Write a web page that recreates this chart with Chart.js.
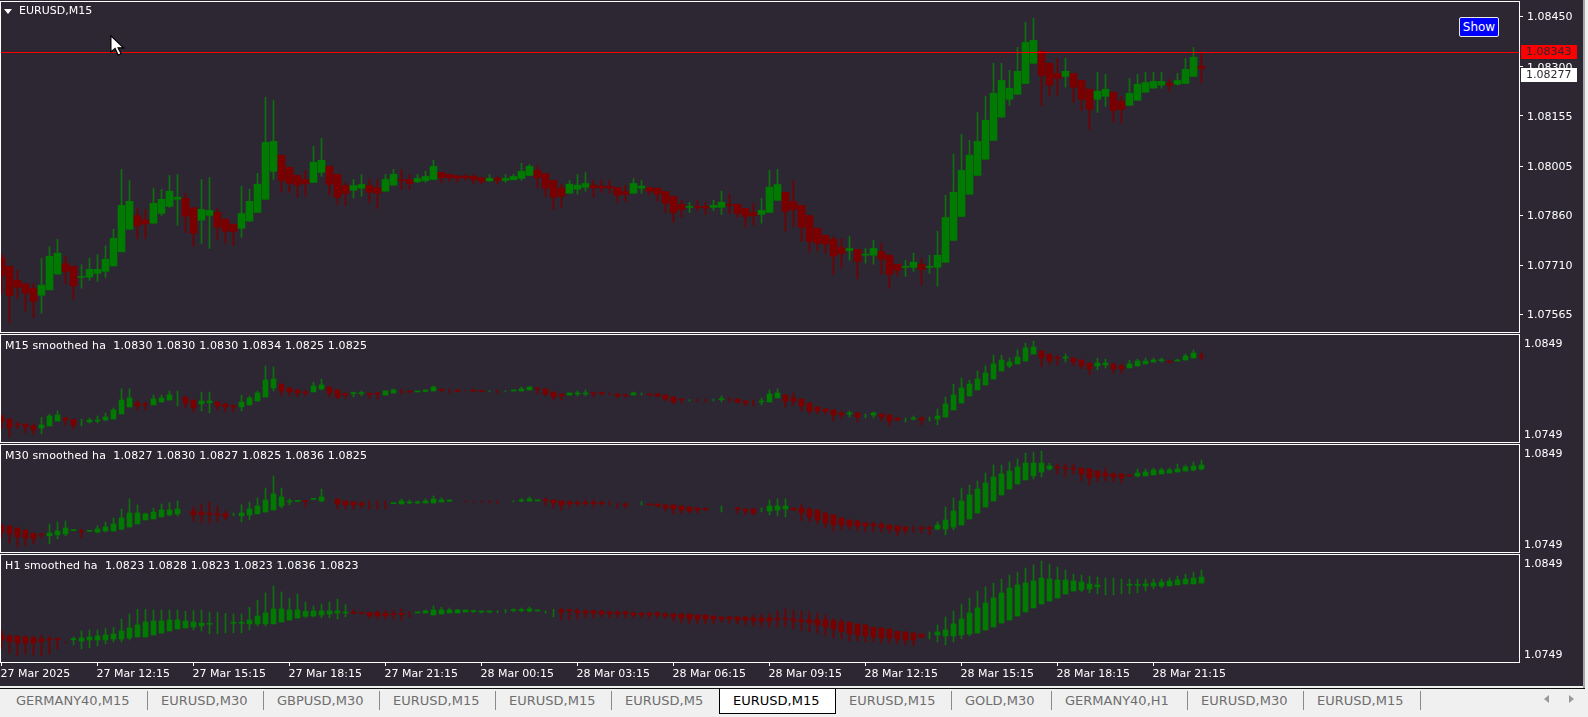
<!DOCTYPE html>
<html>
<head>
<meta charset="utf-8">
<title>EURUSD,M15</title>
<script src="https://cdn.jsdelivr.net/npm/chart.js@4"></script>
<style>
    html, body { margin: 0; padding: 0; background: #f0f0f0; overflow: hidden; }
    body { width: 1588px; height: 717px; position: relative; font-family: "DejaVu Sans", sans-serif; font-size: 11px; }
    #fondo { position: absolute; left: 0; top: 0; width: 1583px; height: 686px; background: #2c2733; }
    #bordeDerecho { position: absolute; left: 1583px; top: 0; width: 2px; height: 688px; background: #a6a6a6; }
    canvas { position: absolute; left: 0; }
    .titulo { position: absolute; color: #fff; white-space: pre; line-height: 14px; }
    .indicador { letter-spacing: 0.13px; }
    #triangulo { position: absolute; left: 4px; top: 9px; width: 0; height: 0; border-left: 4.5px solid transparent; border-right: 4.5px solid transparent; border-top: 5px solid #fff; }
    #cursor { position: absolute; left: 109px; top: 34px; }
    #botonShow { position: absolute; left: 1459px; top: 17px; width: 38px; height: 18px; background: #0000ff; border: 1px solid #e8e8e8; border-radius: 2px; color: #fff; text-align: center; line-height: 18px; font-size: 12px; }
    #lineaTabs { position: absolute; left: 0; top: 688px; width: 1585px; height: 1px; background: #111; }
    .tab { position: absolute; top: 693px; color: #6e6e6e; font-size: 13px; line-height: 15px; white-space: pre; }
    .sep { position: absolute; top: 691px; width: 1px; height: 19px; background: #8a8a8a; }
    #tabActiva { position: absolute; left: 719px; top: 688px; width: 115px; height: 24px; background: #fff; border: 1px solid #000; border-top-color: #111; }
    .flecha { position: absolute; top: 695px; width: 0; height: 0; border-top: 4px solid transparent; border-bottom: 4px solid transparent; }
</style>
</head>
<body>
<div id="fondo"></div>
<div id="bordeDerecho"></div>
<canvas id="panelPrecio" width="1583" height="334" style="top:0"></canvas>
<canvas id="panelM15" width="1583" height="109" style="top:334px"></canvas>
<canvas id="panelM30" width="1583" height="109" style="top:444px"></canvas>
<canvas id="panelH1" width="1583" height="133" style="top:554px"></canvas>

<div id="triangulo"></div>
<div class="titulo" style="left:19px;top:4px">EURUSD,M15</div>
<div class="titulo indicador" id="tituloM15" style="left:5px;top:339px"></div>
<div class="titulo indicador" id="tituloM30" style="left:5px;top:449px"></div>
<div class="titulo indicador" id="tituloH1" style="left:5px;top:559px"></div>
<div id="botonShow">Show</div>
<svg id="cursor" width="17" height="24" viewBox="0 0 14 20"><path d="M1.5 1.5 L1.5 15 L5 12 L7.5 17.5 L10 16.5 L7.5 11.5 L12 11.5 Z" fill="#fff" stroke="#000" stroke-width="1"/></svg>

<div id="lineaTabs"></div>
<div id="tabActiva"></div>
<div class="tab" style="left:16px">GERMANY40,M15</div><div class="sep" style="left:147px"></div>
<div class="tab" style="left:161px">EURUSD,M30</div><div class="sep" style="left:263px"></div>
<div class="tab" style="left:277px">GBPUSD,M30</div><div class="sep" style="left:379px"></div>
<div class="tab" style="left:393px">EURUSD,M15</div><div class="sep" style="left:495px"></div>
<div class="tab" style="left:509px">EURUSD,M15</div><div class="sep" style="left:611px"></div>
<div class="tab" style="left:625px">EURUSD,M5</div>
<div class="tab" style="left:733px;color:#000">EURUSD,M15</div>
<div class="tab" style="left:849px">EURUSD,M15</div><div class="sep" style="left:951px"></div>
<div class="tab" style="left:965px">GOLD,M30</div><div class="sep" style="left:1051px"></div>
<div class="tab" style="left:1065px">GERMANY40,H1</div><div class="sep" style="left:1187px"></div>
<div class="tab" style="left:1201px">EURUSD,M30</div><div class="sep" style="left:1303px"></div>
<div class="tab" style="left:1317px">EURUSD,M15</div><div class="sep" style="left:1420px"></div>
<div class="flecha" style="left:1544px;border-right:5px solid #999"></div>
<div class="flecha" style="left:1569px;border-left:5px solid #999"></div>

<script>
// Precios en puntos por encima de 1.07000 (1450 = 1.08450)
// R = vela bajista, G = vela alcista, - = sin vela
const direccionPrecio =
    'RRRRRGGGRRGGGGGGGRRGGGGRRGGRRRGGGGGRRRRGGRRRGGRRGG' +
    'RRGGGRRRRRRGRGGGGRRRRGGGRRRRRGGRRRRRGRRGGRRRRGGGRR' +
    'RRRRRRGRGGRRRGGRGGGGGGGGGGGGGGRRRGRRRGGRRGGGGGRGGGR';

const precioAlto = [744,708,696,656,656,731,766,788,738,708,713,732,743,769,818,996,963,880,877,940,937,978,981,925,882,966,972,880,848,833,946,937,984,1210,1201,1038,1002,978,993,1064,1088,1005,981,957,966,981,966,966,981,996,
    995,981,981,990,1023,987,981,978,981,981,971,981,975,981,981,1014,1011,1008,983,963,952,963,981,987,963,965,963,942,949,969,963,942,940,930,916,904,898,904,898,904,931,922,892,880,895,910,993,996,928,963,
    889,859,821,800,797,791,797,758,761,785,776,741,714,726,747,732,741,812,919,1041,1100,1082,1165,1213,1311,1311,1290,1358,1433,1445,1347,1311,1326,1326,1281,1260,1234,1284,1278,1225,1213,1266,1278,1284,1284,1284,1263,1281,1326,1358,1341];
const precioSup = [734,708,666,656,643,652,738,747,716,708,677,699,699,729,791,889,901,859,846,895,907,931,913,910,882,877,874,868,848,833,865,901,952,1076,1079,1038,1002,978,966,1017,1023,1005,981,948,948,951,948,941,966,981,
    965,965,969,975,1005,987,981,977,975,975,971,969,969,969,975,990,1005,993,983,963,940,952,949,954,949,946,946,942,930,954,946,942,940,930,916,892,886,886,886,889,898,892,892,880,868,874,943,951,928,900,
    889,859,821,800,788,764,761,758,744,761,752,741,714,708,720,714,708,741,853,928,993,1038,1079,1142,1222,1260,1237,1287,1373,1379,1347,1311,1281,1287,1281,1260,1234,1228,1234,1225,1198,1222,1249,1254,1257,1257,1251,1260,1293,1329,1302];
const precioInf = [680,621,646,628,604,622,638,685,693,650,675,676,687,693,709,751,818,828,834,836,865,886,907,857,806,845,859,824,812,812,821,842,868,907,990,963,954,949,954,957,987,951,913,925,934,940,928,925,931,949,
    963,954,959,962,966,971,971,969,971,966,960,962,963,963,965,969,978,971,940,913,916,925,937,943,941,941,941,919,922,925,940,931,922,895,868,877,883,883,881,883,883,889,865,856,859,862,868,904,871,877,
    824,782,776,774,738,746,755,723,741,741,729,684,696,705,705,699,705,705,720,785,856,922,978,1026,1082,1151,1204,1219,1251,1311,1275,1246,1266,1272,1240,1204,1174,1204,1213,1171,1174,1186,1201,1225,1237,1246,1246,1249,1251,1272,1296];
const precioBajo = [627,540,612,575,555,569,638,685,656,609,643,666,663,675,709,751,818,791,791,836,859,883,830,809,768,776,761,788,776,770,794,842,868,907,966,928,928,913,916,957,975,919,892,889,910,916,898,880,931,949,
    936,936,956,957,966,956,960,957,963,954,954,960,952,957,965,963,978,940,916,877,883,925,922,931,913,928,925,898,901,925,925,919,901,868,839,853,868,874,862,874,862,864,853,824,830,836,868,904,812,825,
    782,750,753,747,684,702,726,672,717,714,684,643,678,678,693,652,687,649,720,785,856,922,978,1026,1082,1151,1186,1219,1251,1311,1186,1213,1216,1240,1195,1171,1115,1165,1183,1136,1133,1186,1201,1225,1237,1237,1228,1246,1251,1272,1254];

const m15Alto = [698,661,628,606,606,679,716,749,679,658,661,672,694,727,782,990,990,858,847,924,924,968,968,913,869,957,957,851,829,815,924,913,968,1242,1231,1044,1001,979,979,1066,1099,1012,979,946,957,968,946,953,968,990,
    990,968,968,979,1023,990,990,979,972,979,964,972,979,972,979,1012,1012,1001,990,957,935,946,968,979,946,957,946,935,924,957,946,935,935,924,902,880,873,880,880,880,913,898,880,858,869,891,979,990,924,946,
    880,836,793,771,760,749,749,727,716,738,716,705,672,672,694,683,683,771,902,1044,1110,1088,1187,1242,1362,1362,1329,1417,1493,1515,1406,1373,1362,1373,1329,1307,1274,1329,1318,1264,1264,1307,1318,1329,1329,1329,1296,1318,1373,1417,1395];
const m15Sup = [698,661,606,606,585,596,694,705,672,658,625,650,650,683,760,869,891,836,829,880,891,924,913,898,869,858,858,847,826,807,847,891,946,1088,1099,1044,1001,979,957,1023,1034,1012,979,942,946,946,942,942,968,979,
    972,968,968,979,1012,986,979,979,972,979,964,968,964,968,979,990,1012,997,990,957,935,946,946,946,946,946,942,935,924,946,942,935,935,924,902,880,869,869,869,873,880,880,880,858,851,858,935,946,924,891,
    880,836,793,771,760,727,723,727,712,727,716,705,672,661,672,672,661,694,826,924,1001,1044,1099,1165,1264,1307,1285,1340,1439,1450,1406,1373,1333,1336,1329,1307,1274,1274,1274,1264,1242,1264,1296,1296,1307,1307,1293,1307,1351,1384,1351];
const m15Inf = [628,563,596,574,541,563,585,639,650,592,621,628,639,650,661,716,793,804,815,815,847,869,909,833,782,826,840,804,793,793,793,815,858,902,1001,968,957,946,946,957,990,946,902,921,939,939,928,935,924,946,
    964,957,957,964,968,975,975,964,968,968,961,964,961,964,968,968,979,990,935,902,913,924,935,935,939,939,935,913,917,924,928,924,913,880,847,869,866,866,866,869,873,877,847,836,847,847,847,891,858,858,
    804,749,749,742,705,705,716,683,705,705,683,639,650,658,661,650,658,661,683,760,836,913,979,1034,1099,1187,1242,1264,1296,1373,1329,1296,1322,1329,1285,1242,1209,1242,1253,1209,1209,1220,1242,1264,1285,1300,1285,1296,1307,1329,1340];
const m15Bajo = [552,464,552,508,490,497,585,639,596,552,585,617,617,639,661,716,793,760,760,815,847,869,804,782,738,749,727,760,742,738,749,815,858,902,968,913,913,902,913,957,979,902,880,891,902,913,891,880,924,946,
    935,946,957,957,968,957,946,961,968,957,957,957,946,957,968,968,979,935,913,869,869,924,913,913,902,924,924,891,898,924,924,921,902,858,826,836,858,847,847,858,847,847,836,804,804,815,847,891,793,815,
    749,716,716,716,639,661,683,628,672,672,639,585,639,628,650,596,639,596,683,760,836,913,979,1034,1099,1187,1220,1264,1296,1373,1231,1253,1253,1285,1242,1209,1143,1198,1220,1165,1165,1220,1242,1264,1285,1285,1274,1296,1307,1329,1307];
// Velas del indicador que solo muestran la mecha
const soloMechaM15 = [10,22,50,56,58,61,62,63,76,80,86,87,88,89,91,94,108,113,116];

const direccionM30 =
    'RRRRRRGGGGRGGGGGGGGGGGG-RRRRRGGGGGGGGGRGG-RRRRRRRG' +
    'GGGGGGG-RRRRR-GGGGRRRRRRRRRRR-GRRRRRRRR-G-RRRGGGGR' +
    'RRRRRRRRRRRRRRRRRGGGGGGGGGGGGGGGRRRRRRRRRRGGGGGGGGG';
const m30Alto = [716,694,672,650,617,606,716,738,749,647,661,639,694,738,782,880,990,924,836,891,935,950,968,null,902,935,957,913,858,836,928,957,1001,1110,1242,1110,990,968,968,990,1099,null,990,968,957,957,968,968,968,946,
    990,979,968,990,1023,1001,979,null,968,964,968,972,968,null,972,993,1012,979,1001,979,968,968,968,979,979,968,968,946,946,null,961,935,935,924,924,913,902,891,880,null,913,null,902,880,880,891,979,990,990,891,
    935,891,869,836,815,782,760,749,727,738,738,709,694,683,694,694,694,738,902,1001,1110,1143,1187,1274,1362,1362,1395,1428,1493,1504,1515,1380,1373,1373,1373,1329,1318,1296,1329,1274,1264,1253,1318,1318,1329,1329,1329,1373,1362,1395,1417];
const m30Sup = [698,694,672,650,614,603,617,639,672,647,639,639,661,683,716,782,836,836,826,847,869,869,880,null,858,847,836,829,829,826,836,880,913,979,1044,1012,961,968,968,990,1012,null,990,968,957,946,946,935,935,946,
    968,957,957,968,990,979,979,null,964,961,961,961,964,null,968,979,990,979,982,979,968,957,946,946,946,946,946,935,935,null,946,935,935,924,924,913,902,891,880,null,898,null,880,880,880,880,913,913,913,891,
    891,880,869,836,815,782,760,749,727,716,709,705,694,683,669,672,672,705,760,858,968,1034,1099,1165,1231,1264,1296,1340,1384,1384,1384,1351,1340,1329,1329,1329,1318,1296,1274,1264,1264,1249,1274,1285,1307,1307,1307,1318,1340,1351,1362];
const m30Inf = [628,606,574,563,552,596,588,596,606,643,628,636,628,639,639,661,683,716,760,771,793,815,826,null,815,815,822,815,793,822,804,815,826,847,869,913,957,964,961,986,968,null,935,924,924,924,942,931,931,939,
    935,946,946,946,946,957,968,null,961,957,957,957,957,null,964,968,968,968,972,946,924,935,942,939,939,939,942,931,924,null,942,924,913,891,880,869,858,869,877,null,895,null,877,858,836,877,858,869,880,869,
    836,793,760,727,705,705,694,694,694,698,679,661,639,650,665,665,665,661,661,683,705,771,836,902,968,1034,1099,1154,1198,1242,1285,1318,1333,1322,1318,1264,1220,1231,1242,1231,1220,1242,1242,1242,1253,1264,1274,1285,1296,1307,1318];
const m30Bajo = [563,508,464,475,497,563,497,552,585,643,563,632,617,628,639,650,683,716,760,771,793,804,804,null,749,727,727,738,760,807,738,760,826,847,869,891,924,961,902,982,957,null,880,880,880,891,880,880,880,939,
    935,935,935,946,946,957,957,null,957,953,953,946,942,null,957,957,968,968,924,891,869,891,913,913,902,913,924,891,891,null,924,924,902,858,826,826,836,836,858,null,847,null,836,815,815,847,815,804,793,869,
    752,738,716,672,639,650,661,639,628,628,628,617,585,606,628,617,596,650,596,650,705,771,836,902,968,1034,1099,1154,1198,1209,1231,1307,1264,1242,1264,1187,1143,1176,1187,1176,1165,1238,1231,1242,1253,1264,1274,1285,1296,1296,1307];
const soloMechaM30 = [29,46,47,48,58,59,60,61,62,64,76,77,80,90,95,114];

const direccionH1 =
    'RRRRRRRRRGGGGGGGGGGGGGGGGGGGGGGGGGGGGGGGGGGGRRRRRR' +
    'RRGGGGGGGGGGGGGGGGGGRRRRRRRRRRRRRRRRRRRRRRRRRRRRRR' +
    'RRRRRRRRRRRRRRRRGGGGGGGGGGGGGGGGGGGGGGGGGGGGGGGGGGG';
const h1Alto = [752,705,694,694,694,705,694,672,627,683,749,760,760,778,789,880,935,986,986,979,979,979,979,964,972,979,957,957,942,935,935,1008,1088,1165,1242,1176,1110,1154,1066,1023,1044,1066,1099,1037,986,942,953,972,972,972,
    990,964,957,979,1023,1008,1001,986,979,979,968,968,972,986,993,1001,1012,979,968,986,1001,990,993,979,979,979,968,968,968,957,957,957,957,950,935,935,935,924,924,913,902,906,902,902,924,935,942,968,990,979,
    968,961,946,924,887,880,847,826,815,789,782,771,745,738,727,716,738,815,902,968,1044,1110,1187,1231,1274,1318,1362,1395,1439,1472,1515,1482,1450,1417,1373,1362,1351,1340,1329,1329,1318,1318,1318,1318,1318,1318,1329,1351,1373,1395,1417];
const h1Sup = [705,694,694,683,672,661,658,658,625,658,672,683,694,705,716,749,782,815,847,858,858,869,869,858,847,836,826,836,833,836,836,869,913,946,990,990,979,979,964,968,968,968,968,950,946,942,953,950,942,935,
    942,942,957,968,979,979,979,979,979,968,964,964,964,972,979,979,990,979,961,961,979,975,968,968,968,964,957,957,957,946,942,946,946,935,935,935,935,924,924,913,902,902,902,902,891,891,891,880,880,880,
    873,873,873,873,858,847,847,826,815,789,782,771,745,738,727,716,705,738,760,826,880,946,1001,1055,1110,1165,1220,1253,1274,1296,1329,1318,1307,1307,1296,1285,1264,1253,1245,1238,1234,1253,1253,1264,1274,1285,1296,1307,1318,1329,1340];
const h1Inf = [650,632,617,617,617,632,650,654,621,654,639,650,650,650,661,661,672,683,683,705,727,749,771,782,793,804,822,833,829,833,833,826,826,826,826,847,869,891,909,913,924,935,946,946,942,939,913,913,913,928,
    928,939,946,946,924,935,946,946,957,961,957,957,961,968,972,972,968,968,957,957,957,972,946,946,946,935,935,935,935,924,924,924,924,913,902,891,880,880,880,880,880,880,869,869,858,858,858,877,877,858,
    851,836,815,793,771,742,716,705,694,683,672,672,661,650,650,679,701,705,694,694,705,716,727,760,793,836,869,913,957,1001,1044,1077,1110,1154,1187,1198,1209,1231,1242,1234,1231,1249,1249,1242,1242,1242,1242,1253,1264,1264,1274];
const h1Bajo = [552,508,475,497,486,475,497,552,619,596,552,563,585,606,628,628,650,683,683,705,727,749,771,782,760,749,716,716,727,727,727,760,804,804,826,847,869,891,898,902,891,891,880,902,935,939,891,880,880,880,
    869,898,946,946,924,935,946,946,957,950,946,946,946,946,957,957,957,968,942,902,869,869,880,891,891,902,891,891,891,891,891,880,891,880,858,836,826,826,826,826,847,836,826,815,804,793,789,793,793,771,
    752,742,727,694,672,661,639,639,628,628,617,617,606,596,585,676,661,628,596,628,661,694,727,760,793,836,869,913,957,1001,1044,1077,1110,1154,1187,1176,1165,1154,1143,1143,1154,1154,1165,1187,1209,1220,1242,1253,1264,1264,1274];
const soloMechaH1 = [8,27,28,51,62,63,68,69,116,138,139,140];

// Ejes y etiquetas
const ticksPrecio = [1.0845, 1.083, 1.08155, 1.08005, 1.0786, 1.0771, 1.07565];
const ticksIndicador = [1.0849, 1.0749];
const etiquetasTiempo = ['27 Mar 2025', '27 Mar 12:15', '27 Mar 15:15', '27 Mar 18:15', '27 Mar 21:15', '28 Mar 00:15', '28 Mar 03:15', '28 Mar 06:15', '28 Mar 09:15', '28 Mar 12:15', '28 Mar 15:15', '28 Mar 18:15', '28 Mar 21:15'];
const velasPorEtiqueta = 12;
const precioAsk = 1.08343;
const precioBid = 1.08277;
const lecturasM15 = ['1.0830', '1.0830', '1.0830', '1.0834', '1.0825', '1.0825'];
const lecturasM30 = ['1.0827', '1.0830', '1.0827', '1.0825', '1.0836', '1.0825'];
const lecturasH1 = ['1.0823', '1.0828', '1.0823', '1.0823', '1.0836', '1.0823'];

const VERDE = '#007a00', ROJO = '#7a0000';
const VERDE_MECHA = '#0f700f', ROJO_MECHA = '#720000';
const BLANCO = '#ffffff', FONDO = '#2c2733';

Chart.defaults.font.family = '"DejaVu Sans", sans-serif';
Chart.defaults.font.size = 11;
Chart.defaults.color = BLANCO;

const precio = puntos => 1.07 + puntos / 100000;

// Dibuja el marco blanco de cada panel
const marcoPanel = {
    id: 'marcoPanel',
    afterDraw(chart) {
        const { ctx, chartArea: a } = chart;
        ctx.save();
        ctx.strokeStyle = BLANCO;
        ctx.lineWidth = 1;
        ctx.strokeRect(a.left + 0.5, a.top + 0.5, a.right - a.left - 1, a.bottom - a.top - 1);
        ctx.restore();
    }
};

// Recuadros de precio actual en el eje del panel principal
const cajasPrecio = {
    id: 'cajasPrecio',
    afterDraw(chart) {
        const { ctx, scales } = chart;
        ctx.save();
        ctx.font = '11px "DejaVu Sans"';
        ctx.textBaseline = 'middle';
        [[precioAsk, '#ff0000'], [precioBid, BLANCO]].forEach(([valor, color]) => {
            const y = Math.round(scales.y.getPixelForValue(valor));
            ctx.fillStyle = color;
            ctx.fillRect(1521, y - 7, 56, 14);
            ctx.fillStyle = FONDO;
            ctx.fillText(valor.toFixed(5), 1526, y);
        });
        ctx.restore();
    }
};

// Crea un panel de velas: mechas y cuerpos son barras flotantes superpuestas
function crearPanel(id, velas, opciones) {
    const indices = velas.alto.map((v, i) => i).filter(i => velas.alto[i] !== null);
    const conCuerpo = indices.filter(i => !(velas.soloMecha || []).includes(i));
    const sube = i => velas.direccion[i] === 'G';

    const datasets = [{
        label: 'cuerpo',
        data: conCuerpo.map(i => ({ x: i, y: [precio(velas.inf[i]), precio(velas.sup[i])] })),
        backgroundColor: conCuerpo.map(i => sube(i) ? VERDE : ROJO),
        barThickness: opciones.anchoCuerpo,
        minBarLength: 1,
        grouped: false,
        order: 1
    }, {
        label: 'mecha',
        data: indices.map(i => ({ x: i, y: [precio(velas.bajo[i]), precio(velas.alto[i])] })),
        backgroundColor: indices.map(i => sube(i) ? VERDE_MECHA : ROJO_MECHA),
        barThickness: 1,
        minBarLength: 1,
        grouped: false,
        order: 2
    }];

    if (opciones.lineaPrecio) {
        datasets.push({
            type: 'line',
            label: 'ask',
            data: [{ x: -1, y: opciones.lineaPrecio }, { x: 190, y: opciones.lineaPrecio }],
            borderColor: '#ff0000',
            borderWidth: 1,
            pointRadius: 0,
            order: 0
        });
    }

    return new Chart(document.getElementById(id), {
        type: 'bar',
        data: { datasets },
        plugins: opciones.plugins,
        options: {
            responsive: false,
            animation: false,
            layout: { padding: opciones.padding },
            plugins: { legend: { display: false }, tooltip: { enabled: false } },
            scales: {
                x: {
                    type: 'linear',
                    display: opciones.conTiempo,
                    offset: false,
                    min: -0.1875,
                    max: 189.8125,
                    grid: { offset: false, drawOnChartArea: false, drawTicks: true, tickLength: 3, color: BLANCO },
                    border: { display: false },
                    afterBuildTicks: escala => {
                        escala.ticks = etiquetasTiempo.map((t, i) => ({ value: i * velasPorEtiqueta }));
                    },
                    ticks: {
                        autoSkip: false,
                        maxRotation: 0,
                        align: 'start',
                        padding: 2,
                        labelOffset: -1,
                        callback: valor => etiquetasTiempo[valor / velasPorEtiqueta]
                    },
                    afterFit: escala => {
                        escala.height = opciones.conTiempo ? 24 : 0;
                        escala.paddingLeft = 0;
                        escala.paddingRight = 0;
                    }
                },
                y: {
                    position: 'right',
                    min: opciones.min,
                    max: opciones.max,
                    grid: { drawOnChartArea: false, drawTicks: opciones.marcasEje, tickLength: 3, color: BLANCO },
                    border: { display: false },
                    afterBuildTicks: escala => {
                        escala.ticks = opciones.ticks.map(v => ({ value: v }));
                    },
                    ticks: {
                        autoSkip: false,
                        padding: 4,
                        labelOffset: 1,
                        callback: valor => valor.toFixed(opciones.decimales)
                    },
                    afterFit: escala => {
                        escala.width = 63;
                        escala.paddingTop = 0;
                        escala.paddingBottom = 0;
                    }
                }
            }
        }
    });
}

document.addEventListener('DOMContentLoaded', () => {
    document.getElementById('tituloM15').textContent = 'M15 smoothed ha  ' + lecturasM15.join(' ');
    document.getElementById('tituloM30').textContent = 'M30 smoothed ha  ' + lecturasM30.join(' ');
    document.getElementById('tituloH1').textContent = 'H1 smoothed ha  ' + lecturasH1.join(' ');

    crearPanel('panelPrecio',
        { direccion: direccionPrecio, alto: precioAlto, sup: precioSup, inf: precioInf, bajo: precioBajo },
        { anchoCuerpo: 7, min: 1.075099, max: 1.084959, ticks: ticksPrecio, decimales: 5, marcasEje: true,
          padding: { top: 1, bottom: 1 }, lineaPrecio: precioAsk, plugins: [marcoPanel, cajasPrecio], conTiempo: false });

    const comunIndicador = { anchoCuerpo: 5, min: 1.07398, max: 1.08592, ticks: ticksIndicador, decimales: 4, marcasEje: false, padding: 0, plugins: [marcoPanel] };
    crearPanel('panelM15',
        { direccion: direccionPrecio, alto: m15Alto, sup: m15Sup, inf: m15Inf, bajo: m15Bajo, soloMecha: soloMechaM15 },
        { ...comunIndicador, conTiempo: false });
    crearPanel('panelM30',
        { direccion: direccionM30, alto: m30Alto, sup: m30Sup, inf: m30Inf, bajo: m30Bajo, soloMecha: soloMechaM30 },
        { ...comunIndicador, conTiempo: false });
    crearPanel('panelH1',
        { direccion: direccionH1, alto: h1Alto, sup: h1Sup, inf: h1Inf, bajo: h1Bajo, soloMecha: soloMechaH1 },
        { ...comunIndicador, conTiempo: true });
});
</script>
</body>
</html>
